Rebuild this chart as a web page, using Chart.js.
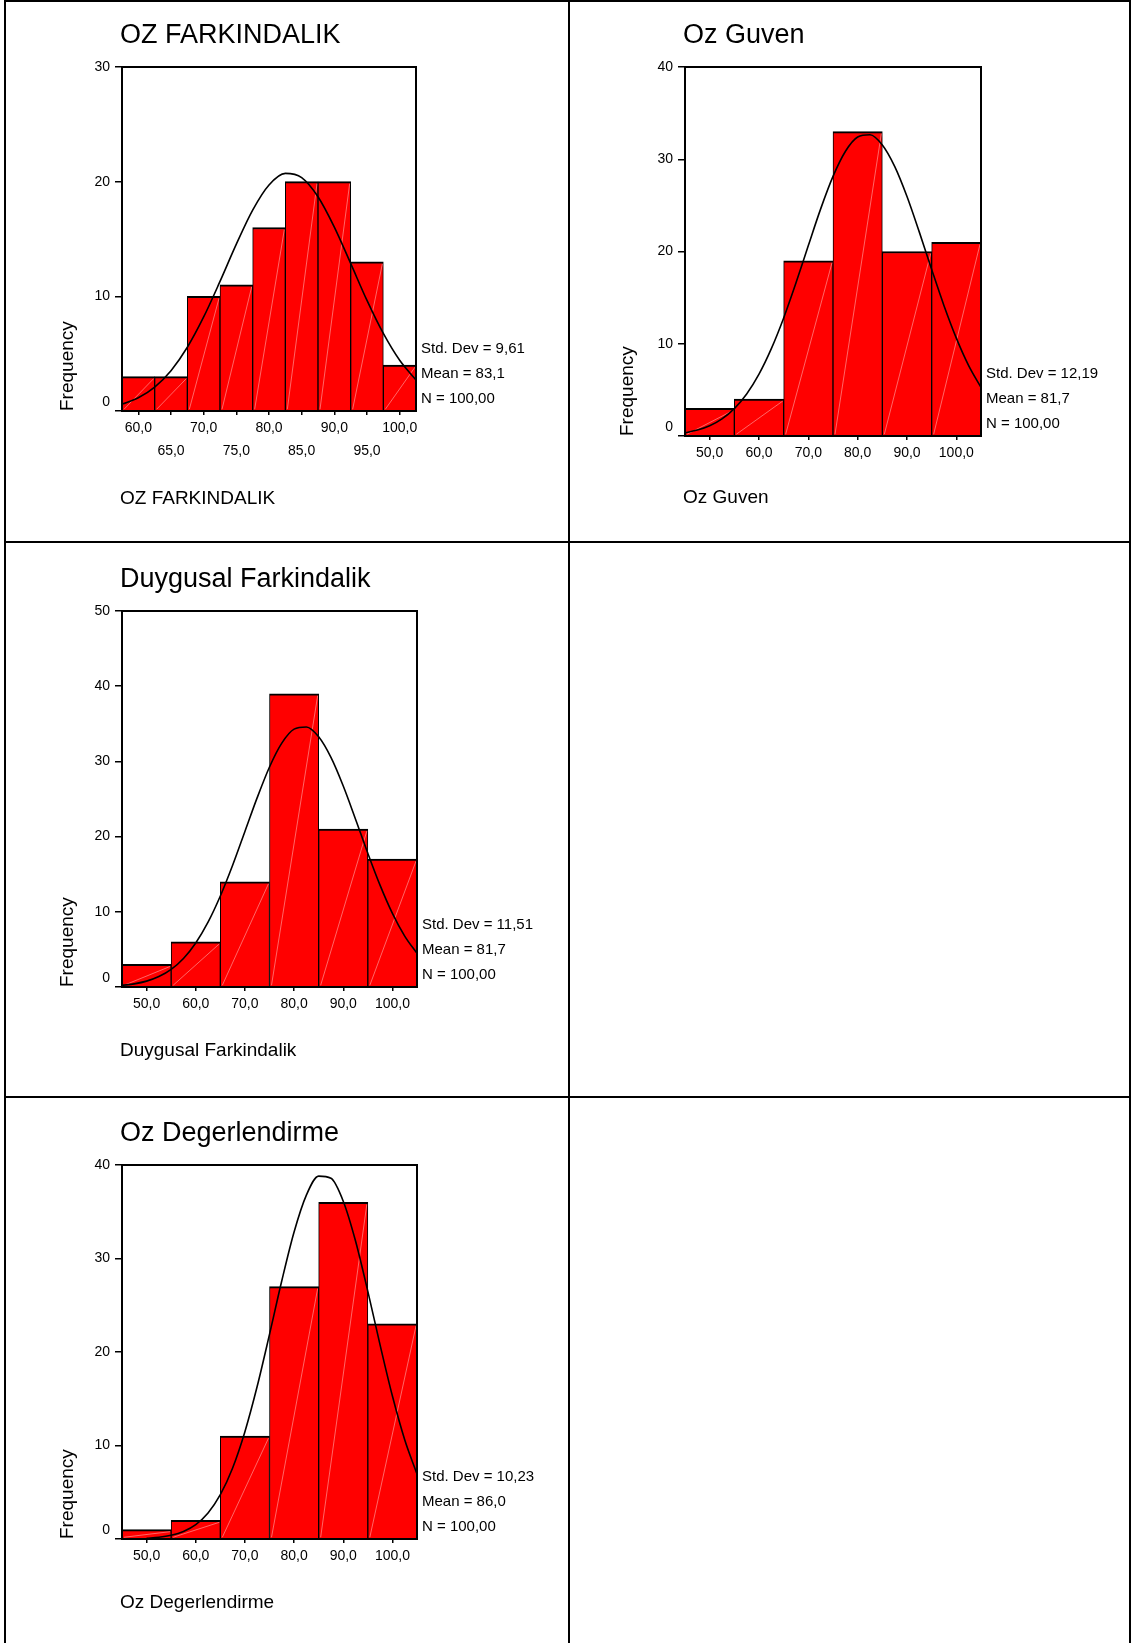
<!DOCTYPE html>
<html>
<head>
<meta charset="utf-8">
<title>Histograms</title>
<script src="https://cdn.jsdelivr.net/npm/chart.js@4.4.0/dist/chart.umd.min.js"></script>
<style>
  html, body { margin: 0; padding: 0; background: #fff; overflow: hidden; }
  #page { position: relative; width: 1131px; height: 1643px; overflow: hidden; }
  .rule { position: absolute; background: #000; }
  canvas { position: absolute; }
</style>
</head>
<body>
<div id="page">
  <div class="rule" style="left:4px;top:0;width:1127px;height:2px"></div>
  <div class="rule" style="left:4px;top:0;width:2px;height:1643px"></div>
  <div class="rule" style="left:1129px;top:0;width:2px;height:1643px"></div>
  <div class="rule" style="left:568px;top:0;width:2px;height:1643px"></div>
  <div class="rule" style="left:4px;top:541px;width:1127px;height:2px"></div>
  <div class="rule" style="left:4px;top:1096px;width:1127px;height:2px"></div>
  <canvas id="c1" style="left:6px;top:2px" width="562" height="539"></canvas>
  <canvas id="c2" style="left:570px;top:2px" width="559" height="539"></canvas>
  <canvas id="c3" style="left:6px;top:543px" width="562" height="553"></canvas>
  <canvas id="c4" style="left:6px;top:1098px" width="562" height="545"></canvas>
</div>
<script>
// OZ FARKINDALIK
const ozfBins = [60, 65, 70, 75, 80, 85, 90, 95, 100]
const ozfCounts = [3, 3, 10, 11, 16, 20, 20, 13, 4]
const ozfXTicks = [60, 65, 70, 75, 80, 85, 90, 95, 100]
const ozfYTicks = [0, 10, 20, 30]
const ozfRange = [57.5, 102.5]
const ozfCurveX = [57.5, 60, 62.5, 65, 67.5, 70, 72.5, 75, 77.5, 80, 82.5, 85, 87.5, 90, 92.5, 95, 97.5, 100, 102.5]
const ozfCurveY = [0.60, 1.16, 2.09, 3.52, 5.56, 8.20, 11.30, 14.55, 17.52, 19.71, 20.72, 20.36, 18.69, 16.04, 12.87, 9.64, 6.76, 4.42, 2.71]
const ozfStats = ['Std. Dev = 9,61', 'Mean = 83,1', 'N = 100,00']

// Oz Guven
const ozgBins = [50, 60, 70, 80, 90, 100]
const ozgCounts = [3, 4, 19, 33, 20, 21]
const ozgXTicks = [50, 60, 70, 80, 90, 100]
const ozgYTicks = [0, 10, 20, 30, 40]
const ozgRange = [45, 105]
const ozgCurveX = [45, 47.5, 50, 52.5, 55, 57.5, 60, 62.5, 65, 67.5, 70, 72.5, 75, 77.5, 80, 82.5, 85, 87.5, 90, 92.5, 95, 97.5, 100, 102.5, 105]
const ozgCurveY = [0.35, 0.64, 1.11, 1.86, 2.97, 4.56, 6.71, 9.47, 12.80, 16.61, 20.65, 24.62, 28.14, 30.84, 32.41, 32.66, 31.55, 29.23, 25.96, 22.10, 18.05, 14.13, 10.61, 7.63, 5.27]
const ozgStats = ['Std. Dev = 12,19', 'Mean = 81,7', 'N = 100,00']

// Duygusal Farkindalik
const duyBins = [50, 60, 70, 80, 90, 100]
const duyCounts = [3, 6, 14, 39, 21, 17]
const duyXTicks = [50, 60, 70, 80, 90, 100]
const duyYTicks = [0, 10, 20, 30, 40, 50]
const duyRange = [45, 105]
const duyCurveX = [45, 47.5, 50, 52.5, 55, 57.5, 60, 62.5, 65, 67.5, 70, 72.5, 75, 77.5, 80, 82.5, 85, 87.5, 90, 92.5, 95, 97.5, 100, 102.5, 105]
const duyCurveY = [0.22, 0.42, 0.78, 1.39, 2.35, 3.80, 5.86, 8.62, 12.10, 16.19, 20.68, 25.18, 29.26, 32.43, 34.29, 34.58, 33.27, 30.53, 26.73, 22.32, 17.78, 13.51, 9.79, 6.77, 4.47]
const duyStats = ['Std. Dev = 11,51', 'Mean = 81,7', 'N = 100,00']

// Oz Degerlendirme
const ozdBins = [50, 60, 70, 80, 90, 100]
const ozdCounts = [1, 2, 11, 27, 36, 23]
const ozdXTicks = [50, 60, 70, 80, 90, 100]
const ozdYTicks = [0, 10, 20, 30, 40]
const ozdRange = [45, 105]
const ozdCurveX = [50, 52.5, 55, 57.5, 60, 62.5, 65, 67.5, 70, 72.5, 75, 77.5, 80, 82.5, 85, 87.5, 90, 92.5, 95, 97.5, 100, 102.5, 105]
const ozdCurveY = [0.08, 0.18, 0.40, 0.81, 1.54, 2.79, 4.74, 7.60, 11.48, 16.33, 21.88, 27.62, 32.84, 36.78, 38.81, 38.58, 36.13, 31.87, 26.48, 20.73, 15.29, 10.62, 6.95]
const ozdStats = ['Std. Dev = 10,23', 'Mean = 86,0', 'N = 100,00']

// plot boxes in canvas pixels
const boxes = {
  c1: { left: 116, top: 65, right: 410, bottom: 409, yTitleGap: 54, xTitleDrop: 93 },
  c2: { left: 115, top: 65, right: 411, bottom: 434, yTitleGap: 57.5, xTitleDrop: 67 },
  c3: { left: 116, top: 68, right: 411, bottom: 444, yTitleGap: 54, xTitleDrop: 69 },
  c4: { left: 116, top: 67, right: 411, bottom: 441, yTitleGap: 54, xTitleDrop: 69 }
}

const FONT = '"Liberation Sans", Arial, Helvetica, sans-serif'
Chart.defaults.font.family = FONT
Chart.defaults.color = '#000'

const spssPlugin = {
  id: 'spss',
  afterDatasetDraw(chart, args) {
    if (args.meta.type !== 'bar') return
    const ctx = chart.ctx
    ctx.save()
    ctx.strokeStyle = 'rgba(255,255,255,0.4)'
    ctx.lineWidth = 1
    args.meta.data.forEach(bar => {
      const l = bar.x - bar.width / 2
      const r = bar.x + bar.width / 2
      ctx.beginPath()
      ctx.moveTo(l + 2, bar.base - 1)
      ctx.lineTo(r - 1, bar.y + 2)
      ctx.stroke()
    })
    ctx.restore()
  },
  afterDraw(chart, args, opts) {
    const ctx = chart.ctx
    const a = chart.chartArea
    ctx.save()
    ctx.strokeStyle = '#000'
    ctx.lineWidth = 2
    ctx.strokeRect(a.left, a.top, a.right - a.left, a.bottom - a.top)

    ctx.fillStyle = '#000'
    ctx.textAlign = 'left'
    ctx.textBaseline = 'alphabetic'
    ctx.font = '27px ' + FONT
    ctx.fillText(opts.title, a.left - 2, a.top - 24)
    ctx.font = '19px ' + FONT
    ctx.fillText(opts.title, a.left - 2, a.bottom + opts.xTitleDrop)
    ctx.font = '15px ' + FONT
    opts.stats.forEach((line, i) => {
      ctx.fillText(line, a.right + 5, a.bottom - 58 + i * 25)
    })
    ctx.restore()
  }
}

function fmt(v) {
  return v.toFixed(1).replace('.', ',')
}

function makeHistogram(id, title, bins, counts, curveX, curveY, xTicks, yTicks, range, stats, twoRows) {
  const canvas = document.getElementById(id)
  const box = boxes[id]
  const xAxisH = 60
  const titleFont = 19

  new Chart(canvas, {
    type: 'bar',
    data: {
      datasets: [
        {
          type: 'line',
          data: curveX.map((x, i) => ({ x: x, y: curveY[i] })),
          borderColor: '#000',
          borderWidth: 1.6,
          pointRadius: 0,
          cubicInterpolationMode: 'monotone',
          order: 0
        },
        {
          type: 'bar',
          data: bins.map((x, i) => ({ x: x, y: counts[i] })),
          backgroundColor: '#ff0000',
          borderColor: '#000',
          borderWidth: { top: 2, left: 1, right: 1, bottom: 0 },
          borderSkipped: false,
          barPercentage: 1,
          categoryPercentage: 1,
          order: 1
        }
      ]
    },
    options: {
      responsive: false,
      animation: false,
      events: [],
      layout: {
        padding: {
          left: 0,
          top: box.top,
          right: canvas.width - box.right,
          bottom: canvas.height - box.bottom - xAxisH
        }
      },
      plugins: {
        legend: { display: false },
        tooltip: { enabled: false },
        spss: { title: title, stats: stats, xTitleDrop: box.xTitleDrop }
      },
      scales: {
        x: {
          type: 'linear',
          offset: false,
          min: range[0],
          max: range[1],
          afterFit: s => { s.height = xAxisH },
          afterBuildTicks: s => { s.ticks = xTicks.map(v => ({ value: v })) },
          grid: { offset: false, drawOnChartArea: false, tickLength: 4, color: '#000', lineWidth: 1.5 },
          border: { display: false },
          ticks: {
            autoSkip: false,
            maxRotation: 0,
            minRotation: 0,
            padding: 2,
            color: '#000',
            font: { size: 14, lineHeight: 23 / 14 },
            callback: (v, i) => (twoRows && i % 2 === 1) ? ['', fmt(v)] : fmt(v)
          }
        },
        y: {
          min: 0,
          max: yTicks[yTicks.length - 1],
          afterFit: s => { s.width = box.left },
          afterBuildTicks: s => { s.ticks = yTicks.map(v => ({ value: v })) },
          grid: { drawOnChartArea: false, tickLength: 7, color: '#000', lineWidth: 1.5 },
          border: { display: false },
          ticks: {
            autoSkip: false,
            padding: 5,
            color: '#000',
            font: { size: 14 },
            callback: v => v === 0 ? ['0', ''] : String(v)
          },
          title: {
            display: true,
            text: 'Frequency',
            align: 'start',
            color: '#000',
            font: { size: titleFont },
            padding: { top: box.left - box.yTitleGap - titleFont * 0.6, bottom: 0 }
          }
        }
      }
    },
    plugins: [spssPlugin]
  })
}

makeHistogram('c1', 'OZ FARKINDALIK', ozfBins, ozfCounts, ozfCurveX, ozfCurveY, ozfXTicks, ozfYTicks, ozfRange, ozfStats, true)
makeHistogram('c2', 'Oz Guven', ozgBins, ozgCounts, ozgCurveX, ozgCurveY, ozgXTicks, ozgYTicks, ozgRange, ozgStats, false)
makeHistogram('c3', 'Duygusal Farkindalik', duyBins, duyCounts, duyCurveX, duyCurveY, duyXTicks, duyYTicks, duyRange, duyStats, false)
makeHistogram('c4', 'Oz Degerlendirme', ozdBins, ozdCounts, ozdCurveX, ozdCurveY, ozdXTicks, ozdYTicks, ozdRange, ozdStats, false)
</script>
</body>
</html>
